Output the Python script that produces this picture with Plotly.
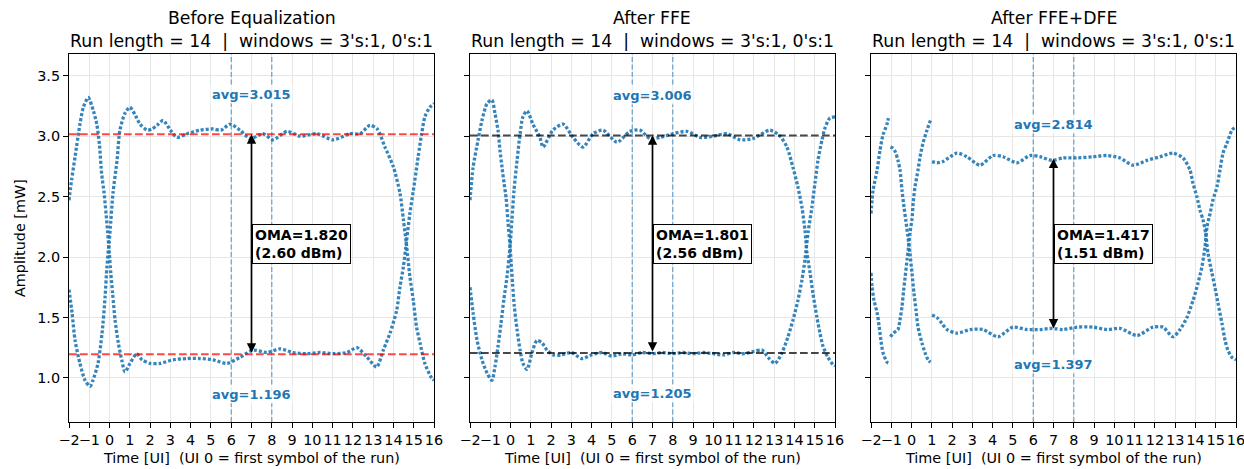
import math
import plotly.graph_objects as go

# ---- data -------------------------------------------------------------
panel_titles = ["Before Equalization", "After FFE", "After FFE+DFE"]
subtitle = "Run length = 14\u00a0 |\u00a0 windows = 3's:1, 0's:1"

ui_ticks = [-2, -1, 0, 1, 2, 3, 4, 5, 6, 7, 8, 9, 10, 11, 12, 13, 14, 15, 16]
ui_tick_text = ["\u22122", "\u22121", "0", "1", "2", "3", "4", "5", "6", "7",
                "8", "9", "10", "11", "12", "13", "14", "15", "16"]
amp_ticks = [1.0, 1.5, 2.0, 2.5, 3.0, 3.5]
amp_tick_text = ["1.0", "1.5", "2.0", "2.5", "3.0", "3.5"]

# Before equalization: run of 3's (high) and run of 0's (low)
pre_run3_t = [-2.0, -1.85, -1.7, -1.46, -1.21, -0.96, -0.82, -0.57, -0.37, -0.22, -0.13,
              0.02, 0.17, 0.37, 0.51, 0.76, 1.0, 1.25, 1.5, 1.85, 2.1, 2.34, 2.64, 3.0,
              3.33, 3.82, 4.46, 5.1, 5.5, 5.94, 6.43, 6.93, 7.57, 8.06, 8.75, 9.39, 10.23,
              11.02, 11.86, 12.35, 12.84, 13.2, 13.58, 13.99, 14.32, 14.49, 14.65, 14.81,
              14.98, 15.14, 15.31, 15.55, 15.88, 16.0]
pre_run3_mw = [1.73, 1.54, 1.31, 1.12, 0.98, 0.93, 0.98, 1.12, 1.37, 1.67, 1.92,
               2.20, 2.53, 2.80, 3.05, 3.19, 3.24, 3.18, 3.10, 3.05, 3.06, 3.09, 3.13, 3.05,
               2.99, 3.02, 3.05, 3.06, 3.05, 3.10, 3.05, 2.98, 3.02, 2.97, 3.04, 3.00, 3.02,
               2.97, 3.02, 3.02, 3.09, 3.06, 2.91, 2.75, 2.53, 2.31, 2.09, 1.84,
               1.64, 1.42, 1.29, 1.12, 1.00, 0.98]
pre_run0_t = [-2.0, -1.87, -1.7, -1.46, -1.29, -1.05, -0.8, -0.63, -0.5, -0.39, -0.27, -0.13,
              -0.01, 0.06, 0.15, 0.27, 0.43, 0.6, 0.76, 1.01, 1.34, 1.6, 1.99, 2.49, 3.13,
              3.82, 4.46, 5.1, 5.79, 6.43, 7.07, 7.76, 8.4, 9.05, 9.74, 10.38, 11.02, 11.71,
              12.2, 12.7, 13.17, 13.5, 13.83, 14.16, 14.32, 14.49, 14.65, 14.81, 14.98,
              15.22, 15.39, 15.55, 15.8, 16.0]
pre_run0_mw = [2.47, 2.64, 2.83, 3.10, 3.24, 3.32, 3.21, 3.10, 2.93, 2.69, 2.53, 2.28,
               2.03, 1.87, 1.70, 1.48, 1.29, 1.15, 1.05, 1.12, 1.20, 1.15, 1.12, 1.12, 1.15,
               1.16, 1.16, 1.15, 1.12, 1.17, 1.23, 1.21, 1.24, 1.21, 1.20, 1.21, 1.20, 1.21,
               1.25, 1.17, 1.09, 1.23, 1.37, 1.56, 1.75, 1.92, 2.14, 2.36, 2.55,
               2.83, 3.02, 3.16, 3.24, 3.27]

# After FFE
ffe_run3_t = [-2.0, -1.85, -1.65, -1.41, -1.16, -0.92, -0.77, -0.62, -0.47, -0.33, -0.18,
              -0.03, 0.07, 0.17, 0.32, 0.47, 0.61, 0.81, 1.1, 1.45, 1.6, 2.09, 2.59, 3.08,
              3.57, 4.07, 4.56, 5.25, 5.89, 6.38, 6.88, 7.37, 8.01, 8.7, 9.34, 9.98, 10.67,
              11.31, 11.95, 12.79, 13.29, 13.63, 13.93, 14.17, 14.37, 14.52, 14.62, 14.77,
              14.91, 15.11, 15.26, 15.41, 15.65, 15.9, 16.0]
ffe_run3_mw = [1.75, 1.54, 1.31, 1.15, 1.04, 0.98, 1.09, 1.26, 1.45, 1.65, 1.83,
               2.08, 2.31, 2.55, 2.80, 3.02, 3.16, 3.21, 3.10, 2.99, 2.91, 3.05, 3.10, 2.99,
               2.91, 3.02, 3.05, 2.95, 3.04, 3.05, 2.98, 2.99, 3.02, 3.04, 2.99, 3.00, 3.02,
               2.97, 2.98, 3.05, 3.00, 2.91, 2.74, 2.58, 2.41, 2.22, 2.03, 1.87,
               1.70, 1.50, 1.37, 1.26, 1.17, 1.11, 1.10]
ffe_run0_t = [-2.0, -1.85, -1.6, -1.41, -1.16, -0.92, -0.77, -0.62, -0.52, -0.42, -0.32, -0.22,
              -0.13, -0.03, 0.03, 0.1, 0.18, 0.32, 0.47, 0.61, 0.81, 1.06, 1.3, 1.55, 1.8,
              2.1, 2.5, 3.0, 3.5, 4.0, 4.5, 5.0, 5.5, 6.0, 6.5, 7.0, 7.5, 8.0, 8.5, 9.0, 9.5,
              10.0, 10.5, 11.0, 11.5, 12.0, 12.4, 12.7, 13.04, 13.39, 13.68, 13.93, 14.17,
              14.37, 14.52, 14.67, 14.86, 15.01, 15.16, 15.36, 15.51, 15.75, 16.0]
ffe_run0_mw = [2.47, 2.74, 2.97, 3.13, 3.27, 3.30, 3.19, 3.05, 2.88, 2.74, 2.61, 2.49,
               2.30, 2.10, 1.95, 1.78, 1.60, 1.40, 1.23, 1.12, 1.07, 1.21, 1.31, 1.29, 1.23,
               1.19, 1.19, 1.21, 1.16, 1.19, 1.21, 1.18, 1.20, 1.19, 1.21, 1.20, 1.21, 1.20,
               1.21, 1.20, 1.21, 1.20, 1.19, 1.21, 1.20, 1.22, 1.23, 1.17, 1.12, 1.21, 1.34,
               1.48, 1.64, 1.81, 1.98, 2.20, 2.41, 2.61, 2.80, 2.97, 3.07, 3.15, 3.16]

# After FFE+DFE (None marks the decision-feedback discontinuities)
dfe_run3_t = [-2.0, -1.95, -1.85, -1.7, -1.6, -1.51, -1.41, -1.21, -1.1, None,
              -1.04, -0.9, -0.67, -0.57, -0.47, -0.4, -0.32, -0.22, -0.15, -0.08, 0.02,
              0.08, 0.17, 0.32, 0.42, 0.56, 0.76, 0.93, None,
              1.01, 1.25, 1.55, 2.24, 2.73, 3.37, 4.02, 4.51, 5.2, 5.84, 6.33, 6.93, 7.47,
              8.16, 8.95, 9.64, 10.28, 10.92, 11.61, 12.25, 12.89, 13.39, 13.73, 13.88,
              14.07, 14.22, 14.37, 14.5, 14.62, 14.81, 14.96, 15.11, 15.31, 15.46, 15.6,
              15.8, 16.0]
dfe_run3_mw = [1.87, 1.76, 1.64, 1.54, 1.43, 1.31, 1.21, 1.13, 1.12, None,
               1.34, 1.37, 1.40, 1.48, 1.59, 1.71, 1.83, 1.98, 2.08, 2.20, 2.31,
               2.45, 2.58, 2.72, 2.83, 2.94, 3.05, 3.13, None,
               2.79, 2.78, 2.79, 2.86, 2.83, 2.76, 2.84, 2.83, 2.78, 2.84, 2.83, 2.80, 2.82,
               2.82, 2.83, 2.84, 2.82, 2.76, 2.80, 2.83, 2.86, 2.82, 2.72, 2.61,
               2.50, 2.39, 2.31, 2.20, 2.03, 1.87, 1.75, 1.62, 1.45, 1.31, 1.23,
               1.17, 1.15]
dfe_run0_t = [-2.0, -1.9, -1.7, -1.56, -1.41, -1.21, -1.14, None,
              -1.04, -0.92, -0.8, -0.67, -0.57, -0.47, -0.37, -0.28, -0.18, -0.08, 0.02,
              0.12, 0.22, 0.32, 0.51, 0.66, 0.81, 0.93, None,
              1.01, 1.25, 1.5, 1.75, 2.24, 2.88, 3.52, 4.26, 5.0, 5.69, 6.33, 6.93, 7.47,
              8.16, 8.95, 9.64, 10.28, 11.12, 11.9, 12.4, 12.89, 13.24, 13.58, 13.88, 14.12,
              14.32, 14.47, 14.57, 14.72, 14.86, 15.06, 15.21, 15.36, 15.55, 15.8, 16.0]
dfe_run0_mw = [2.36, 2.55, 2.72, 2.88, 3.01, 3.10, 3.15, None,
               2.91, 2.90, 2.87, 2.80, 2.72, 2.55, 2.41, 2.30, 2.17, 2.03, 1.87,
               1.70, 1.56, 1.42, 1.29, 1.21, 1.15, 1.13, None,
               1.52, 1.50, 1.45, 1.40, 1.37, 1.40, 1.40, 1.34, 1.42, 1.40, 1.40, 1.41, 1.40,
               1.42, 1.42, 1.40, 1.41, 1.35, 1.42, 1.42, 1.34, 1.40, 1.50, 1.64, 1.78,
               1.92, 2.08, 2.25, 2.36, 2.47, 2.58, 2.72, 2.86, 2.94, 3.05, 3.08]

# Window averages and OMA per panel
avg_high = [3.015, 3.006, 2.814]
avg_low = [1.196, 1.205, 1.397]
oma_mw = [1.820, 1.801, 1.417]
avg_window = [6, 8]

# ---- styling ----------------------------------------------------------
FONT = "DejaVu Sans"
BLUE = "#1f77b4"
W, H = 1244, 469
x_domains = [(69 / W, 434 / W), (470 / W, 835 / W), (871 / W, 1236 / W)]
y_domain = (1 - 422 / H, 1 - 54 / H)
level_colors = ["rgba(255,0,0,0.72)", "rgba(0,0,0,0.72)", None]
label_offset = [0.33, 0.33, 0.285]

series = [
    (pre_run3_t, pre_run3_mw, pre_run0_t, pre_run0_mw),
    (ffe_run3_t, ffe_run3_mw, ffe_run0_t, ffe_run0_mw),
    (dfe_run3_t, dfe_run3_mw, dfe_run0_t, dfe_run0_mw),
]

fig = go.Figure()
shapes = []
annotations = []
wave_line = dict(color="rgba(31,119,180,0.9)", width=3.3, dash="3px,2px",
                 shape="spline", smoothing=0.7)

for i, (t3, v3, t0, v0) in enumerate(series):
    n = i + 1
    xr = "x" if n == 1 else f"x{n}"
    yr = "y" if n == 1 else f"y{n}"
    for t, v in ((t3, v3), (t0, v0)):
        fig.add_trace(go.Scatter(x=t, y=v, mode="lines", line=wave_line,
                                 connectgaps=False, xaxis=xr, yaxis=yr,
                                 showlegend=False, hoverinfo="skip"))

    ax_common = dict(showline=True, mirror=True, linecolor="black", linewidth=1,
                     ticks="outside", ticklen=5, tickwidth=1, tickcolor="black",
                     showgrid=True, gridcolor="#e6e6e6", gridwidth=1, zeroline=False,
                     automargin=False, tickangle=0, ticklabeloverflow="allow",
                     tickfont=dict(family=FONT, size=14.4, color="black"))
    fig.update_layout(**{
        ("xaxis" if n == 1 else f"xaxis{n}"): dict(
            ax_common, domain=list(x_domains[i]), range=[-2, 16], anchor=yr,
            tickmode="array", tickvals=ui_ticks, ticktext=ui_tick_text),
        ("yaxis" if n == 1 else f"yaxis{n}"): dict(
            ax_common, domain=list(y_domain), range=[0.635, 3.68], anchor=xr,
            tickmode="array", tickvals=amp_ticks, ticktext=amp_tick_text,
            showticklabels=(n == 1)),
    })

    xdom = f"{xr} domain"
    ydom = f"{yr} domain"
    # averaging window borders
    for xw in avg_window:
        shapes.append(dict(type="line", xref=xr, yref=ydom, x0=xw, x1=xw, y0=0, y1=1,
                           line=dict(color="rgba(31,119,180,0.6)", width=1.3,
                                     dash="5px,2.5px"), layer="above"))
    # average level lines
    if level_colors[i]:
        for lvl in (avg_high[i], avg_low[i]):
            shapes.append(dict(type="line", xref=xdom, yref=yr, x0=0, x1=1, y0=lvl, y1=lvl,
                               line=dict(color=level_colors[i], width=2, dash="7.7px,3.3px"),
                               layer="above"))

    xc = sum(avg_window) / 2
    # OMA arrow between the two averages
    annotations.append(dict(x=xc, y=avg_high[i], ax=xc, ay=avg_low[i], xref=xr, yref=yr,
                            axref=xr, ayref=yr, text="", showarrow=True, arrowhead=2,
                            arrowside="end+start", arrowsize=1.1, arrowwidth=1.7,
                            arrowcolor="black", standoff=0, startstandoff=0))
    dbm = 10 * math.log10(oma_mw[i])
    annotations.append(dict(x=xc, y=(avg_high[i] + avg_low[i]) / 2, xref=xr, yref=yr,
                            xanchor="left", yanchor="middle", align="left", showarrow=False,
                            text=f"<b>OMA={oma_mw[i]:.3f}<br>({dbm:.2f} dBm)</b>",
                            font=dict(family=FONT, size=14, color="black"),
                            bgcolor="white", bordercolor="black", borderwidth=1,
                            borderpad=2))
    for lvl, sgn in ((avg_high[i], 1), (avg_low[i], -1)):
        annotations.append(dict(x=xc, y=lvl + sgn * label_offset[i], xref=xr, yref=yr,
                                xanchor="center", yanchor="middle", showarrow=False,
                                text=f"<b>avg={lvl:.3f}</b>",
                                font=dict(family=FONT, size=13, color=BLUE),
                                bgcolor="rgba(255,255,255,0.8)", borderpad=1))

    xmid = (x_domains[i][0] + x_domains[i][1]) / 2
    annotations.append(dict(x=xmid, y=1 - 17.5 / H, xref="paper", yref="paper",
                            xanchor="center", yanchor="middle", showarrow=False,
                            text=panel_titles[i],
                            font=dict(family=FONT, size=17.3, color="black")))
    annotations.append(dict(x=xmid, y=1 - 41 / H, xref="paper", yref="paper",
                            xanchor="center", yanchor="middle", showarrow=False,
                            text=subtitle, font=dict(family=FONT, size=17.3, color="black")))
    annotations.append(dict(x=xmid, y=1 - 458 / H, xref="paper", yref="paper",
                            xanchor="center", yanchor="middle", showarrow=False,
                            text="Time [UI]\u00a0 (UI 0 = first symbol of the run)",
                            font=dict(family=FONT, size=14.4, color="black")))

annotations.append(dict(x=20 / W, y=1 - 238 / H, xref="paper", yref="paper",
                        xanchor="center", yanchor="middle", showarrow=False, textangle=-90,
                        text="Amplitude [mW]", font=dict(family=FONT, size=14.4, color="black")))

fig.update_layout(width=W, height=H, margin=dict(l=0, r=0, t=0, b=0),
                  paper_bgcolor="white", plot_bgcolor="white",
                  font=dict(family=FONT, color="black"),
                  shapes=shapes, annotations=annotations, showlegend=False)

fig.write_html("out.html")
